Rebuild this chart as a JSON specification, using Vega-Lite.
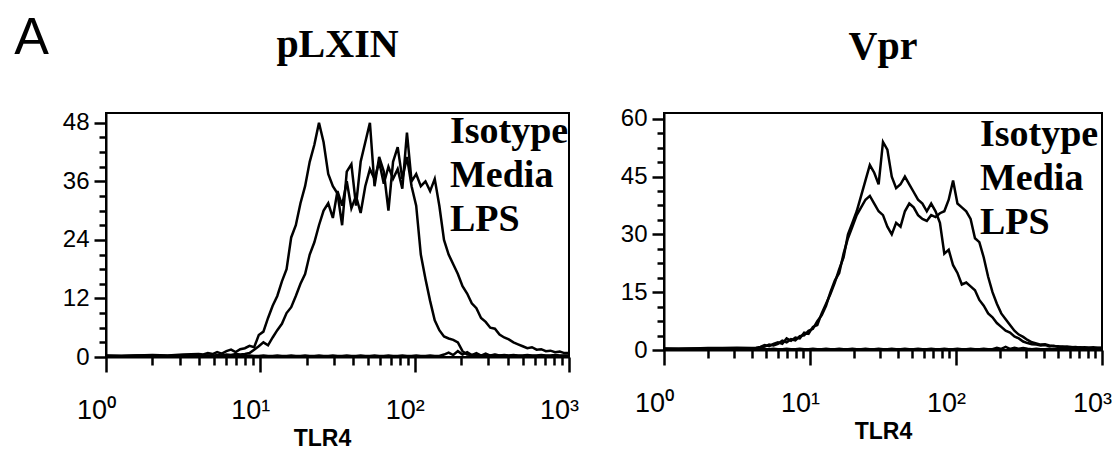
{
  "$schema": "https://vega.github.io/schema/vega-lite/v6.json",
  "background": "white",
  "padding": {"left": 14, "top": 11, "right": 0, "bottom": 0},
  "title": {"text": "A", "anchor": "start", "frame": "bounds", "font": "Liberation Sans", "fontSize": 52, "fontWeight": "normal", "color": "black", "dx": -47, "dy": 41, "offset": 0},
  "datasets": {
    "pLXIN": [
      {"x":1,"Isotype":0.2,"Media":0.3,"LPS":0.2},{"x":1.26,"Isotype":0.2,"Media":0.2,"LPS":0.2},{"x":1.58,"Isotype":0.3,"Media":0.3,"LPS":0.2},{"x":2.0,"Isotype":0.2,"Media":0.4,"LPS":0.3},{"x":2.51,"Isotype":0.2,"Media":0.3,"LPS":0.2},{"x":3.16,"Isotype":0.3,"Media":0.5,"LPS":0.3},{"x":3.98,"Isotype":0.2,"Media":0.6,"LPS":0.3},{"x":4.27,"Isotype":0.2,"Media":0.5,"LPS":0.2},{"x":4.57,"Isotype":0.3,"Media":0.8,"LPS":0.3},{"x":4.9,"Isotype":0.2,"Media":0.6,"LPS":0.2},{"x":5.25,"Isotype":0.2,"Media":1.0,"LPS":0.4},{"x":5.62,"Isotype":0.3,"Media":0.7,"LPS":0.3},{"x":6.03,"Isotype":0.2,"Media":1.2,"LPS":0.5},{"x":6.46,"Isotype":0.2,"Media":1.5,"LPS":0.4},{"x":6.92,"Isotype":0.3,"Media":1.0,"LPS":0.6},{"x":7.41,"Isotype":0.2,"Media":1.6,"LPS":0.5},{"x":7.94,"Isotype":0.2,"Media":1.8,"LPS":0.6},{"x":8.51,"Isotype":0.3,"Media":2.3,"LPS":0.8},{"x":9.12,"Isotype":0.2,"Media":2.0,"LPS":1.5},{"x":9.77,"Isotype":0.2,"Media":4.5,"LPS":2.2},{"x":10.47,"Isotype":0.3,"Media":5.2,"LPS":3.0},{"x":11.22,"Isotype":0.2,"Media":8.0,"LPS":2.4},{"x":12.02,"Isotype":0.2,"Media":10.5,"LPS":4.0},{"x":12.88,"Isotype":0.3,"Media":12.5,"LPS":5.5},{"x":13.8,"Isotype":0.2,"Media":15.5,"LPS":6.8},{"x":14.79,"Isotype":0.2,"Media":18,"LPS":9.0},{"x":15.85,"Isotype":0.3,"Media":24.5,"LPS":10.2},{"x":16.98,"Isotype":0.2,"Media":27,"LPS":12.5},{"x":18.2,"Isotype":0.2,"Media":31.5,"LPS":15},{"x":19.5,"Isotype":0.3,"Media":35,"LPS":17},{"x":20.89,"Isotype":0.2,"Media":40,"LPS":21},{"x":22.39,"Isotype":0.2,"Media":43.5,"LPS":23.5},{"x":23.99,"Isotype":0.3,"Media":48,"LPS":27},{"x":25.7,"Isotype":0.2,"Media":44,"LPS":30},{"x":27.54,"Isotype":0.2,"Media":37.5,"LPS":31.5},{"x":29.51,"Isotype":0.3,"Media":35,"LPS":28.5},{"x":31.62,"Isotype":0.2,"Media":33.5,"LPS":34},{"x":33.88,"Isotype":0.2,"Media":27,"LPS":31},{"x":36.31,"Isotype":0.3,"Media":38,"LPS":36},{"x":38.9,"Isotype":0.2,"Media":39.5,"LPS":30.5},{"x":41.69,"Isotype":0.2,"Media":31,"LPS":33},{"x":44.67,"Isotype":0.3,"Media":40,"LPS":29.5},{"x":47.86,"Isotype":0.2,"Media":44,"LPS":35},{"x":51.29,"Isotype":0.2,"Media":48,"LPS":38.5},{"x":54.95,"Isotype":0.3,"Media":35,"LPS":36.5},{"x":58.88,"Isotype":0.2,"Media":41,"LPS":40},{"x":63.1,"Isotype":0.2,"Media":38,"LPS":35.5},{"x":67.61,"Isotype":0.3,"Media":30,"LPS":39},{"x":72.44,"Isotype":0.2,"Media":40,"LPS":36.5},{"x":77.62,"Isotype":0.2,"Media":43,"LPS":38.5},{"x":83.18,"Isotype":0.3,"Media":36.5,"LPS":34.5},{"x":89.13,"Isotype":0.2,"Media":41,"LPS":46},{"x":95.5,"Isotype":0.2,"Media":35,"LPS":36},{"x":102.3,"Isotype":0.3,"Media":31,"LPS":37.5},{"x":109.6,"Isotype":0.2,"Media":21,"LPS":35},{"x":117.5,"Isotype":0.2,"Media":16,"LPS":36},{"x":125.9,"Isotype":0.3,"Media":11.5,"LPS":34},{"x":134.9,"Isotype":0.2,"Media":7.5,"LPS":36.5},{"x":144.5,"Isotype":0.2,"Media":5.5,"LPS":31},{"x":154.9,"Isotype":0.5,"Media":4.2,"LPS":24},{"x":166,"Isotype":0.9,"Media":3.8,"LPS":21},{"x":177.8,"Isotype":0.4,"Media":3.5,"LPS":19},{"x":190.5,"Isotype":1.2,"Media":3.0,"LPS":17},{"x":204.2,"Isotype":0.5,"Media":1.2,"LPS":14.5},{"x":218.8,"Isotype":1.0,"Media":0.5,"LPS":13},{"x":234.4,"Isotype":0.4,"Media":0.4,"LPS":11},{"x":251.2,"Isotype":0.8,"Media":0.5,"LPS":10},{"x":269.2,"Isotype":0.3,"Media":0.3,"LPS":8},{"x":288.4,"Isotype":0.7,"Media":0.4,"LPS":7.2},{"x":309,"Isotype":0.3,"Media":0.3,"LPS":6},{"x":331.1,"Isotype":0.5,"Media":0.4,"LPS":5.8},{"x":354.8,"Isotype":0.3,"Media":0.3,"LPS":4.6},{"x":380.2,"Isotype":0.3,"Media":0.4,"LPS":4.0},{"x":407.4,"Isotype":0.2,"Media":0.3,"LPS":3.6},{"x":436.5,"Isotype":0.3,"Media":0.4,"LPS":3.0},{"x":467.7,"Isotype":0.2,"Media":0.3,"LPS":2.6},{"x":501.2,"Isotype":0.2,"Media":0.3,"LPS":2.2},{"x":537,"Isotype":0.3,"Media":0.4,"LPS":1.8},{"x":575.4,"Isotype":0.2,"Media":0.3,"LPS":2.0},{"x":616.6,"Isotype":0.2,"Media":0.3,"LPS":1.5},{"x":660.7,"Isotype":0.3,"Media":0.4,"LPS":1.6},{"x":707.9,"Isotype":0.2,"Media":0.3,"LPS":1.2},{"x":758.6,"Isotype":0.2,"Media":0.3,"LPS":1.3},{"x":812.8,"Isotype":0.3,"Media":0.4,"LPS":1.0},{"x":871,"Isotype":0.2,"Media":0.3,"LPS":1.1},{"x":933.3,"Isotype":0.2,"Media":0.3,"LPS":0.8},{"x":1000,"Isotype":0.2,"Media":0.3,"LPS":0.8}
    ],
    "Vpr": [
      {"x":1,"Isotype":0.2,"Media":0.4,"LPS":0.3},{"x":1.26,"Isotype":0.2,"Media":0.3,"LPS":0.3},{"x":1.58,"Isotype":0.3,"Media":0.4,"LPS":0.3},{"x":2.0,"Isotype":0.2,"Media":0.5,"LPS":0.4},{"x":2.51,"Isotype":0.2,"Media":0.5,"LPS":0.3},{"x":3.16,"Isotype":0.3,"Media":0.6,"LPS":0.4},{"x":3.98,"Isotype":0.2,"Media":0.5,"LPS":0.4},{"x":4.27,"Isotype":0.2,"Media":0.6,"LPS":0.4},{"x":4.57,"Isotype":0.3,"Media":0.8,"LPS":0.6},{"x":4.9,"Isotype":0.2,"Media":1.3,"LPS":0.9},{"x":5.25,"Isotype":0.2,"Media":1.0,"LPS":1.4},{"x":5.62,"Isotype":0.3,"Media":1.6,"LPS":1.2},{"x":6.03,"Isotype":0.2,"Media":2.0,"LPS":1.6},{"x":6.46,"Isotype":0.2,"Media":1.6,"LPS":2.4},{"x":6.92,"Isotype":0.3,"Media":3.0,"LPS":2.0},{"x":7.41,"Isotype":0.2,"Media":2.4,"LPS":2.8},{"x":7.94,"Isotype":0.2,"Media":3.2,"LPS":2.5},{"x":8.51,"Isotype":0.3,"Media":3.0,"LPS":3.6},{"x":9.12,"Isotype":0.2,"Media":4.5,"LPS":3.8},{"x":9.77,"Isotype":0.2,"Media":4.2,"LPS":5.0},{"x":10.47,"Isotype":0.3,"Media":6.0,"LPS":5.5},{"x":11.22,"Isotype":0.2,"Media":6.5,"LPS":7.5},{"x":12.02,"Isotype":0.2,"Media":9.5,"LPS":9.0},{"x":12.88,"Isotype":0.3,"Media":12,"LPS":11.5},{"x":13.8,"Isotype":0.2,"Media":14.5,"LPS":15},{"x":14.79,"Isotype":0.2,"Media":17.5,"LPS":18},{"x":15.85,"Isotype":0.3,"Media":21,"LPS":20},{"x":16.98,"Isotype":0.2,"Media":24,"LPS":25},{"x":18.2,"Isotype":0.2,"Media":30,"LPS":29},{"x":19.5,"Isotype":0.3,"Media":33,"LPS":32},{"x":20.89,"Isotype":0.2,"Media":36,"LPS":35},{"x":22.39,"Isotype":0.2,"Media":40,"LPS":37},{"x":23.99,"Isotype":0.3,"Media":44,"LPS":39},{"x":25.7,"Isotype":0.2,"Media":48,"LPS":40},{"x":27.54,"Isotype":0.2,"Media":46,"LPS":38},{"x":29.51,"Isotype":0.3,"Media":43,"LPS":36},{"x":31.62,"Isotype":0.2,"Media":54,"LPS":35},{"x":33.88,"Isotype":0.2,"Media":52,"LPS":32},{"x":36.31,"Isotype":0.3,"Media":45,"LPS":30},{"x":38.9,"Isotype":0.2,"Media":42,"LPS":33},{"x":41.69,"Isotype":0.2,"Media":43,"LPS":32},{"x":44.67,"Isotype":0.3,"Media":45,"LPS":36},{"x":47.86,"Isotype":0.2,"Media":43,"LPS":38},{"x":51.29,"Isotype":0.2,"Media":41,"LPS":37},{"x":54.95,"Isotype":0.3,"Media":39,"LPS":35},{"x":58.88,"Isotype":0.2,"Media":38,"LPS":34},{"x":63.1,"Isotype":0.2,"Media":36,"LPS":33.5},{"x":67.61,"Isotype":0.3,"Media":38,"LPS":35},{"x":72.44,"Isotype":0.2,"Media":36,"LPS":34.5},{"x":77.62,"Isotype":0.2,"Media":33,"LPS":35.5},{"x":83.18,"Isotype":0.3,"Media":25,"LPS":36},{"x":89.13,"Isotype":0.2,"Media":26,"LPS":39},{"x":95.5,"Isotype":0.2,"Media":22,"LPS":44},{"x":102.3,"Isotype":0.3,"Media":20,"LPS":38},{"x":109.6,"Isotype":0.2,"Media":17,"LPS":37},{"x":117.5,"Isotype":0.2,"Media":17.5,"LPS":36},{"x":125.9,"Isotype":0.3,"Media":16.5,"LPS":34},{"x":134.9,"Isotype":0.2,"Media":15.5,"LPS":29},{"x":144.5,"Isotype":0.2,"Media":13,"LPS":28},{"x":154.9,"Isotype":0.3,"Media":11.5,"LPS":24},{"x":166,"Isotype":0.2,"Media":9.5,"LPS":19},{"x":177.8,"Isotype":0.2,"Media":8.5,"LPS":15},{"x":190.5,"Isotype":0.6,"Media":7,"LPS":12},{"x":204.2,"Isotype":0.3,"Media":6,"LPS":9.5},{"x":218.8,"Isotype":0.8,"Media":5,"LPS":8},{"x":234.4,"Isotype":0.3,"Media":4.5,"LPS":6.5},{"x":251.2,"Isotype":0.6,"Media":3.5,"LPS":5},{"x":269.2,"Isotype":0.3,"Media":3,"LPS":4},{"x":288.4,"Isotype":0.5,"Media":2.2,"LPS":3.4},{"x":309,"Isotype":0.3,"Media":1.8,"LPS":2.6},{"x":331.1,"Isotype":0.2,"Media":1.5,"LPS":2.0},{"x":354.8,"Isotype":0.3,"Media":1.4,"LPS":1.7},{"x":380.2,"Isotype":0.2,"Media":1.2,"LPS":1.4},{"x":407.4,"Isotype":0.2,"Media":1.3,"LPS":1.5},{"x":436.5,"Isotype":0.3,"Media":1.0,"LPS":1.2},{"x":467.7,"Isotype":0.2,"Media":1.1,"LPS":1.0},{"x":501.2,"Isotype":0.2,"Media":0.8,"LPS":1.0},{"x":537,"Isotype":0.3,"Media":0.9,"LPS":0.8},{"x":575.4,"Isotype":0.2,"Media":0.7,"LPS":0.9},{"x":616.6,"Isotype":0.2,"Media":0.8,"LPS":0.7},{"x":660.7,"Isotype":0.3,"Media":0.6,"LPS":0.8},{"x":707.9,"Isotype":0.2,"Media":0.7,"LPS":0.6},{"x":758.6,"Isotype":0.2,"Media":0.6,"LPS":0.7},{"x":812.8,"Isotype":0.3,"Media":0.6,"LPS":0.6},{"x":871,"Isotype":0.2,"Media":0.5,"LPS":0.7},{"x":933.3,"Isotype":0.2,"Media":0.6,"LPS":0.5},{"x":1000,"Isotype":0.2,"Media":0.5,"LPS":0.6}
    ]
  },
  "bounds": "flush",
  "spacing": 95,
  "resolve": {"scale": {"color": "independent", "x": "independent", "y": "independent"}, "legend": {"color": "independent"}},
  "hconcat": [
    {
      "width": 463,
      "height": 244,
      "title": {"text": "pLXIN", "offset": 46},
      "data": {"name": "pLXIN"},
      "transform": [{"fold": ["Isotype", "Media", "LPS"], "as": ["sample", "count"]}],
      "resolve": {"axis": {"x": "independent", "y": "independent"}},
      "layer": [
        {
          "mark": {"type": "line", "opacity": 0},
          "encoding": {
            "x": {"field": "x", "type": "quantitative", "scale": {"type": "log", "domain": [1, 1000]},
              "axis": {"orient": "bottom", "title": null, "labels": false, "domain": false, "ticks": true, "tickSize": 8, "tickColor": "#000000", "zindex": 1,
                "values": [2,3,4,5,6,7,8,9,20,30,40,50,60,70,80,90,200,300,400,500,600,700,800,900]}},
            "y": {"field": "count", "type": "quantitative", "scale": {"domain": [0, 50], "nice": false},
              "axis": {"orient": "left", "title": null, "labels": false, "domain": false, "ticks": true, "tickSize": 7, "tickColor": "#000000", "zindex": 1,
                "values": [3,6,9,15,18,21,27,30,33,39,42,45]}},
            "detail": {"field": "sample"}
          }
        },
        {
          "mark": {"type": "line", "strokeWidth": 2.5, "clip": true},
          "encoding": {
            "x": {"field": "x", "type": "quantitative",
              "axis": {"orient": "bottom", "title": "TLR4", "titleX": 216, "ticks": true, "tickSize": 15, "tickColor": "#000000", "zindex": 1, "values": [1, 10, 100, 1000],
                "labelExpr": "datum.value == 1 ? '10⁰' : datum.value == 10 ? '10¹' : datum.value == 100 ? '10²' : '10³'"}},
            "y": {"field": "count", "type": "quantitative",
              "axis": {"orient": "left", "title": null, "ticks": true, "tickSize": 12, "tickColor": "#000000", "zindex": 1, "values": [0, 12, 24, 36, 48]}},
            "color": {"field": "sample", "type": "nominal", "scale": {"domain": ["Isotype", "Media", "LPS"], "range": ["black", "black", "black"]},
              "legend": {"orient": "top-right", "offset": 0}}
          }
        }
      ]
    },
    {
      "width": 438,
      "height": 237,
      "title": {"text": "Vpr", "offset": 40},
      "data": {"name": "Vpr"},
      "transform": [{"fold": ["Isotype", "Media", "LPS"], "as": ["sample", "count"]}],
      "resolve": {"axis": {"x": "independent", "y": "independent"}},
      "layer": [
        {
          "mark": {"type": "line", "opacity": 0},
          "encoding": {
            "x": {"field": "x", "type": "quantitative", "scale": {"type": "log", "domain": [1, 1000]},
              "axis": {"orient": "bottom", "title": null, "labels": false, "domain": false, "ticks": true, "tickSize": 8, "tickColor": "#000000", "zindex": 1,
                "values": [2,3,4,5,6,7,8,9,20,30,40,50,60,70,80,90,200,300,400,500,600,700,800,900]}},
            "y": {"field": "count", "type": "quantitative", "scale": {"domain": [0, 61.5], "nice": false},
              "axis": {"orient": "left", "title": null, "labels": false, "domain": false, "ticks": true, "tickSize": 7, "tickColor": "#000000", "zindex": 1,
                "values": [3.75,7.5,11.25,18.75,22.5,26.25,33.75,37.5,41.25,48.75,52.5,56.25]}},
            "detail": {"field": "sample"}
          }
        },
        {
          "mark": {"type": "line", "strokeWidth": 2.5, "clip": true},
          "encoding": {
            "x": {"field": "x", "type": "quantitative",
              "axis": {"orient": "bottom", "title": "TLR4", "titleX": 219, "ticks": true, "tickSize": 15, "tickColor": "#000000", "zindex": 1, "values": [1, 10, 100, 1000],
                "labelExpr": "datum.value == 1 ? '10⁰' : datum.value == 10 ? '10¹' : datum.value == 100 ? '10²' : '10³'"}},
            "y": {"field": "count", "type": "quantitative",
              "axis": {"orient": "left", "title": null, "ticks": true, "tickSize": 12, "tickColor": "#000000", "zindex": 1, "values": [0, 15, 30, 45, 60]}},
            "color": {"field": "sample", "type": "nominal", "scale": {"domain": ["Isotype", "Media", "LPS"], "range": ["black", "black", "black"]},
              "legend": {"orient": "top-right", "offset": 3}}
          }
        }
      ]
    }
  ],
  "config": {
    "view": {"stroke": "black", "strokeWidth": 2},
    "title": {"font": "Liberation Serif", "fontSize": 40, "fontWeight": "bold", "color": "black", "anchor": "middle"},
    "axis": {"grid": false, "ticks": true, "domainColor": "black", "domainWidth": 2, "tickColor": "#000000", "tickWidth": 2.5, "tickOpacity": 1,
      "labelColor": "black", "labelFont": "Liberation Sans", "labelFontSize": 24,
      "labelOverlap": false, "labelFlush": false,
      "titleColor": "black", "titleFont": "Liberation Sans", "titleFontWeight": "bold", "titleFontSize": 23},
    "axisX": {"labelFontSize": 27, "labelPadding": 25, "labelOffset": -10, "titlePadding": 4},
    "axisY": {"labelPadding": 5},
    "legend": {"title": null, "symbolSize": 0, "symbolStrokeWidth": 0, "symbolOpacity": 0, "labelOffset": 0, "padding": 0,
      "labelFont": "Liberation Serif", "labelFontWeight": "bold", "labelFontSize": 38, "labelColor": "black", "rowPadding": 6, "labelLimit": 300}
  }
}
